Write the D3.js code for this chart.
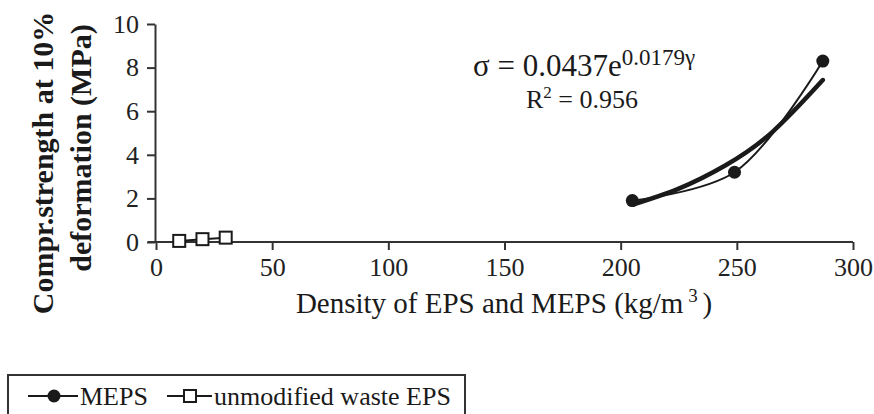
<!DOCTYPE html>
<html><head><meta charset="utf-8">
<script src="https://cdn.jsdelivr.net/npm/d3@7"></script>
<style>
body{margin:0;background:#fff;}
svg{display:block;font-family:"Liberation Serif","Times New Roman",serif;}
</style></head>
<body><svg id="c" width="874" height="414"></svg>
<script>
const xTicks = [0, 50, 100, 150, 200, 250, 300];
const yTicks = [0, 2, 4, 6, 8, 10];
const mepsX = [205, 249, 287];
const mepsY = [1.9, 3.2, 8.3];
const epsX = [10, 20, 30];
const epsY = [0.05, 0.13, 0.2];
const trendX = [205, 225, 245, 265, 287];
const trendY = [1.71, 2.45, 3.51, 5.02, 7.43];
const seriesNames = ["MEPS", "unmodified waste EPS"];

const svg = d3.select("#c");
const x = d3.scaleLinear().domain([0, 300]).range([156, 853]);
const y = d3.scaleLinear().domain([0, 10]).range([242, 24]);

const fs = "Liberation Serif";
const ink = "#1a1a1a";

// axes
const gx = svg.append("g").attr("transform", `translate(0,${y(0)})`)
  .call(d3.axisBottom(x).tickValues(xTicks).tickSize(8).tickSizeOuter(0).tickPadding(8));
const gy = svg.append("g").attr("transform", `translate(${x(0)-1},0)`)
  .call(d3.axisLeft(y).tickValues(yTicks).tickSize(8).tickSizeOuter(0).tickPadding(8));
[gx, gy].forEach(g => {
  g.attr("font-family", fs);
  g.select(".domain").attr("stroke", "#333").attr("stroke-width", 2);
  g.selectAll(".tick line").attr("stroke", "#333").attr("stroke-width", 2);
  g.selectAll(".tick text").attr("font-family", fs).attr("font-size", 26).attr("fill", "#222");
});
gx.select(".domain").attr("d", `M${x(0)-8},0H${x(300)}`);

// trendline
const tline = d3.line().x((d, i) => x(trendX[i])).y(d => y(d)).curve(d3.curveNatural);
svg.append("path").attr("d", tline(trendY)).attr("fill", "none")
  .attr("stroke", ink).attr("stroke-width", 4.5).attr("stroke-linecap", "round");

// MEPS series
const mline = d3.line().x((d, i) => x(mepsX[i])).y(d => y(d)).curve(d3.curveCatmullRom.alpha(0.5));
svg.append("path").attr("d", mline(mepsY)).attr("fill", "none")
  .attr("stroke", ink).attr("stroke-width", 2);
svg.selectAll("circle.m").data(mepsY).join("circle").attr("class", "m")
  .attr("cx", (d, i) => x(mepsX[i])).attr("cy", d => y(d)).attr("r", 6.5).attr("fill", ink);

// EPS series
const eline = d3.line().x((d, i) => x(epsX[i])).y(d => y(d));
svg.append("path").attr("d", eline(epsY)).attr("fill", "none")
  .attr("stroke", ink).attr("stroke-width", 2);
svg.selectAll("rect.e").data(epsY).join("rect").attr("class", "e")
  .attr("x", (d, i) => x(epsX[i]) - 6).attr("y", d => y(d) - 6)
  .attr("width", 12).attr("height", 12).attr("fill", "#fff").attr("stroke", ink).attr("stroke-width", 2);

// equation
const eq = svg.append("text").attr("x", 473).attr("y", 76).attr("font-family", fs)
  .attr("font-size", 31).attr("fill", ink);
eq.append("tspan").text("σ = 0.0437e");
eq.append("tspan").attr("font-size", 23).attr("dy", -11).text("0.0179γ");
const r2 = svg.append("text").attr("x", 526).attr("y", 108).attr("font-family", fs)
  .attr("font-size", 26).attr("fill", ink);
r2.append("tspan").text("R");
r2.append("tspan").attr("font-size", 17).attr("dy", -10).text("2");
r2.append("tspan").attr("dy", 10).text(" = 0.956");

// x title
const xt = svg.append("text").attr("x", 504).attr("y", 313).attr("text-anchor", "middle")
  .attr("font-family", fs).attr("font-size", 29).attr("fill", ink);
xt.append("tspan").text("Density of EPS and MEPS (kg/m");
xt.append("tspan").attr("font-size", 19).attr("dy", -11).text(" 3 ");
xt.append("tspan").attr("dy", 11).text(")");

// y title
svg.append("text").attr("transform", "translate(53,163) rotate(-90)").attr("text-anchor", "middle")
  .attr("font-family", fs).attr("font-weight", "bold").attr("font-size", 30).attr("fill", ink)
  .text("Compr.strength at 10%");
svg.append("text").attr("transform", "translate(91,148) rotate(-90)").attr("text-anchor", "middle")
  .attr("font-family", fs).attr("font-weight", "bold").attr("font-size", 30).attr("fill", ink)
  .text("deformation (MPa)");

// legend
svg.append("rect").attr("x", 8).attr("y", 375).attr("width", 457).attr("height", 50)
  .attr("fill", "none").attr("stroke", "#333").attr("stroke-width", 2);
const lg = svg.append("g");
lg.append("line").attr("x1", 28).attr("x2", 78).attr("y1", 396).attr("y2", 396).attr("stroke", ink).attr("stroke-width", 2);
lg.append("circle").attr("cx", 54).attr("cy", 396).attr("r", 6.5).attr("fill", ink);
lg.append("text").attr("x", 80).attr("y", 405).attr("font-family", fs).attr("font-size", 26).attr("fill", ink).text(seriesNames[0]);
lg.append("line").attr("x1", 167).attr("x2", 212).attr("y1", 396).attr("y2", 396).attr("stroke", ink).attr("stroke-width", 2);
lg.append("rect").attr("x", 184).attr("y", 390).attr("width", 12).attr("height", 12).attr("fill", "#fff").attr("stroke", ink).attr("stroke-width", 2);
lg.append("text").attr("x", 214).attr("y", 405).attr("font-family", fs).attr("font-size", 26).attr("fill", ink).text(seriesNames[1]);
</script></body></html>
